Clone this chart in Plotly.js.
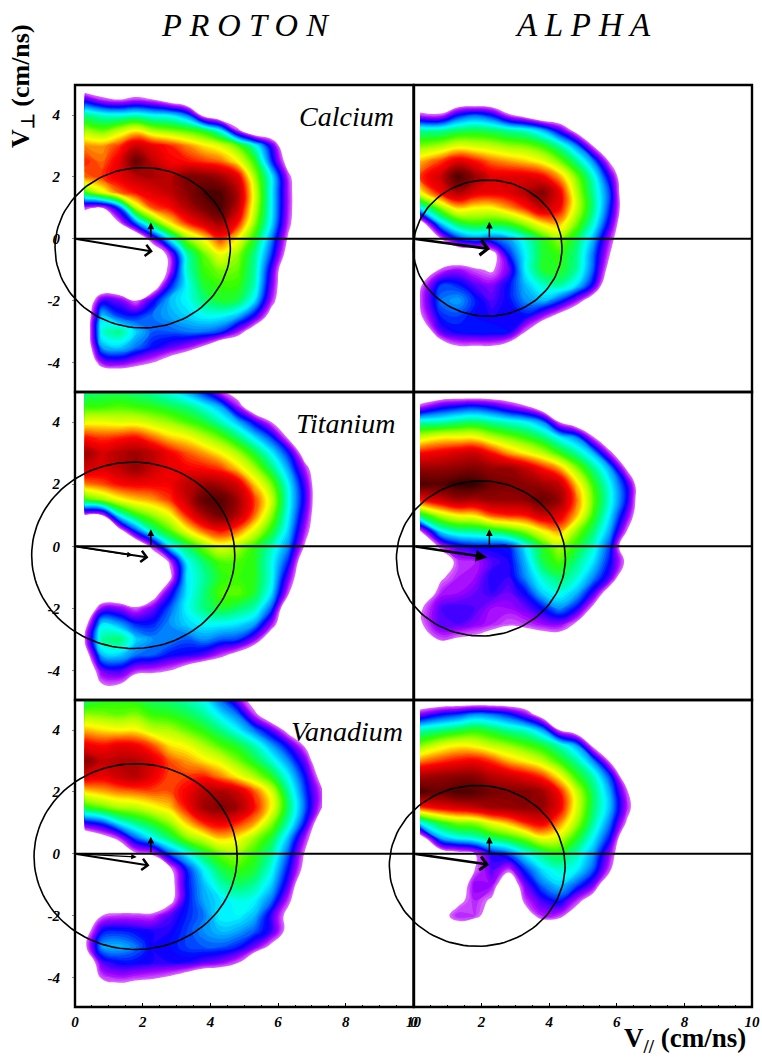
<!DOCTYPE html>
<html><head><meta charset="utf-8">
<script src="https://cdn.plot.ly/plotly-3.0.1.min.js"></script>
<style>html,body{margin:0;padding:0;background:#fff}</style></head>
<body><div id="chart" style="width:762px;height:1062px"></div>
<script>
// grid of the velocity maps
const vParProton = [0.28,0.8,1.3,1.8,2.3,2.8,3.3,3.8,4.3,4.8,5.3,5.8,6.3,6.8,7.3];
const vParAlpha = [0.18,0.8,1.3,1.8,2.3,2.8,3.3,3.8,4.3,4.8,5.3,5.8,6.3,6.8,7.3];
const vPerpTopDown = [5,4.5,4,3.5,3,2.5,2,1.5,1,0.5,0,-0.5,-1,-1.5,-2,-2.5,-3,-3.5,-4,-4.5,-5];

const protonCalcium = [
[0,0,0,0,0,0,0,0,0,0,0,0,0,0,0],
[1.8,1.2,1,1.2,1,0.5,0,0,0,0,0,0,0,0,0],
[3.5,3.2,3.1,3.2,3,2.9,2.4,0.7,0,0,0,0,0,0,0],
[4.5,4.2,4.6,5,4.5,4.3,4.1,3.8,3,1.2,0,0,0,0,0],
[5.5,5.4,5.8,6.5,6.2,5.9,5.5,5.1,4.8,4.2,3.2,1.8,0,0,0],
[5.9,5.6,6.2,7.5,6.6,6.1,6,5.8,5.6,5,4,2.2,0.6,0,0],
[5.6,5.8,6.2,6.6,6.8,6.7,7.2,7.2,6.9,6.3,4.5,3,1.2,0,0],
[4,4.8,5.6,6,6.3,6.6,7.1,7.7,7.7,6.8,4.8,3,1.3,0,0],
[1.2,1,2.2,4.6,5.7,6,6.7,7.3,7.8,6.6,4.7,3,1.3,0,0],
[0,0,0.9,2.3,3.8,5,5.8,6.4,6.9,6,4.4,2.9,1.2,0,0],
[0,0,0,0,1.5,3,4.3,5,5.8,5,3.9,2.5,0.9,0,0],
[0,0,0,0,0,1.3,3.3,4.2,4.9,4.4,3.5,2.2,0.6,0,0],
[0,0,0,0,0,1.2,3.2,4,4.3,4.2,3.4,1.8,0,0,0],
[0,0,0,0,0.3,2,3,3.8,4,4,3.3,1.6,0,0,0],
[0,1.8,1.6,1,1.9,2.7,3,3.5,3.8,3.7,2.9,1.3,0,0,0],
[0,2.8,2.2,2.1,2.4,2.6,2.8,3,3,2.7,1.9,0.6,0,0,0],
[0,3.2,3.5,2.8,2.3,2.3,2.4,2.4,2.2,1.4,0.4,0,0,0,0],
[0,2.6,2.8,2.4,2,1.7,1.4,0.9,0,0,0,0,0,0,0],
[0,1.4,1.6,1.3,1,0.5,0,0,0,0,0,0,0,0,0],
[0,0,0,0,0,0,0,0,0,0,0,0,0,0,0],
[0,0,0,0,0,0,0,0,0,0,0,0,0,0,0]];

const alphaCalcium = [
[0,0,0,0,0,0,0,0,0,0,0,0,0,0,0],
[0,0,0,0,0,0,0,0,0,0,0,0,0,0,0],
[1.2,1.1,2,2.3,2,1.1,0.6,0,0,0,0,0,0,0,0],
[3.4,3.4,3.6,3.7,3.6,3.4,3.2,2.7,1.8,0.7,0,0,0,0,0],
[4.3,4.5,4.8,4.7,4.6,4.4,4.3,4,3.4,2.5,1,0,0,0,0],
[5.3,5.8,6.3,6,5.6,5.4,5.2,4.9,4.3,3.5,2.5,0.9,0,0,0],
[5.8,6.5,7.8,7,6.3,6.3,6.3,6.1,5.4,4.3,3.2,1.8,0,0,0],
[5,6.1,6.8,6.3,6.2,6.3,6.7,7.2,6.2,4.6,3.4,2.2,0,0,0],
[3,4.4,5.2,5,5,5.4,5.9,6.6,6.1,4.7,3.5,2.1,0.2,0,0],
[0.5,2.8,3.7,4,3.9,4,4.5,5.1,5.3,4.3,3.2,1.8,0,0,0],
[0,1,2.1,2.5,2.3,2.6,3.2,3.9,4.4,3.7,2.7,1.3,0,0,0],
[0,0,0,0,0.6,2.1,3,3.8,4,3.5,2.4,1,0,0,0],
[0,1.1,1.4,1.1,0.9,1.6,3,3.8,3.9,3.4,2.3,0.6,0,0,0],
[0.9,2.2,2.1,1.7,1.5,2,2.7,3.2,3.4,2.9,1.9,0,0,0,0],
[1.1,2.4,2.6,2.1,1.7,2,2.5,2.7,2.2,1.4,0.4,0,0,0,0],
[0.9,2.1,2.2,2,1.9,2,2,1.4,0.7,0,0,0,0,0,0],
[0,1.7,2,2.1,2.1,2,1,0,0,0,0,0,0,0,0],
[0,0.3,0.9,0.9,0.9,0.5,0,0,0,0,0,0,0,0,0],
[0,0,0,0,0,0,0,0,0,0,0,0,0,0,0],
[0,0,0,0,0,0,0,0,0,0,0,0,0,0,0],
[0,0,0,0,0,0,0,0,0,0,0,0,0,0,0]];

const protonTitanium = [
[3.5,3.6,3.6,3.5,3.3,3,2.6,2,1.1,0.5,0,0,0,0,0],
[4,4,4.1,4,3.9,3.7,3.5,3.1,2.6,1.4,0.2,0,0,0,0],
[4.9,4.9,4.8,4.8,4.6,4.4,4.1,3.8,3.3,2.7,1.9,1,0,0,0],
[6,5.8,5.9,6,5.6,5.2,5,4.6,4.2,3.6,2.9,2.2,0.9,0,0],
[7,6.4,6.7,6.9,6.6,6.1,5.7,5.4,5,4.5,3.8,3,2.1,0.5,0],
[6.5,6.3,6.6,7,6.5,6.1,6.1,6,5.8,5.2,4.5,3.6,2.6,1.3,0],
[5.5,5.7,6,6.1,6.1,6.1,6.6,6.9,6.8,6.4,5.2,4.3,3,1.7,0],
[4,4.4,4.9,5.2,5.4,5.8,6.5,7.6,7.7,6.9,5.8,4.7,3.1,1.8,0],
[1,1,3,3.9,4.4,4.9,5.9,6.8,7.4,6.7,5.6,4.4,3,1.6,0],
[0,0,0.6,2.2,3.4,4.1,4.9,5.6,6,5.6,4.8,3.9,2.8,1.3,0],
[0,0,0,0,1.3,2.9,3.6,4.3,4.8,4.5,4,3.3,2.5,0.9,0],
[0,0,0,0,0,1.1,3,3.6,4.1,4.1,3.9,3.1,2.1,0.2,0],
[0,0,0,0,0,0.8,2.9,3.4,3.9,4,3.9,3.1,1.6,0,0],
[0,0,0,0,0.5,1.8,2.9,3.5,4.1,4.2,3.8,2.9,1.1,0,0],
[0,1.5,1.5,1.1,1.6,2.3,3,3.5,3.8,3.6,3.3,2.3,0,0,0],
[0.6,2.9,2.6,2.1,2.1,2.5,2.8,3,3,2.9,2.6,1.4,0,0,0],
[1,3.4,3.6,2.8,2.5,2.5,2.3,2.5,2.3,2.2,1.5,0.3,0,0,0],
[0.4,2.7,2.8,2.4,2.3,2,1.9,1.7,1.2,0.7,0,0,0,0,0],
[0,1.6,1.8,1.3,1.2,1,0.5,0,0,0,0,0,0,0,0],
[0,0.9,0.9,0,0,0,0,0,0,0,0,0,0,0,0],
[0,0,0,0,0,0,0,0,0,0,0,0,0,0,0]];

const alphaTitanium = [
[0,0,0,0,0,0,0,0,0,0,0,0,0,0,0],
[1.2,1.8,2,2.1,1.9,1.5,1.1,0.3,0,0,0,0,0,0,0],
[3.3,3.3,3.5,3.6,3.4,3.2,3,2.5,1,0.3,0,0,0,0,0],
[4.7,5,5,5,4.6,4.3,4,3.6,3,2.5,1.1,0,0,0,0],
[6,6.2,6.4,6.5,6,5.4,5,4.6,4,3.4,2.7,1.2,0,0,0],
[7,7,7.1,7.2,7,7,6.6,6,5.4,4.4,3.5,2.6,0.9,0,0],
[7.8,7.7,8,8,7.4,7.2,7.1,6.9,6.6,5.2,4,3,1.9,0,0],
[6,6.5,6.9,6.8,7,7,7.1,7.5,7,5.6,4.2,3.1,2,0,0],
[3.7,4.6,5,5.1,5.7,5.9,6,6.5,6.3,5.3,4,2.9,1.6,0,0],
[1,3,3.4,3.5,3.7,4,4.4,5,5.4,4.4,3.6,2.6,1,0,0],
[0,1.2,1.8,2,2,2.1,3,3.9,4.5,3.9,3.2,2.2,0,0,0],
[0,0.4,1.2,1.3,1.7,1.9,2.7,3.7,4.1,3.5,2.9,2,0.8,0,0],
[0,0.9,1.3,1.4,1.9,1.8,2.5,3.2,3.6,3.2,2.5,1.7,0,0,0],
[0.2,1.3,1.4,1.6,1.8,1.6,2,2.8,3.1,2.7,1.8,0.4,0,0,0],
[0.9,1.7,1.8,1.7,1.4,1.4,1.6,2,2.5,2,0.8,0,0,0,0],
[0.9,1.7,1.7,1.5,1.3,1.1,1.2,1.4,1.5,0.9,0,0,0,0,0],
[0.3,1.1,0.9,0.8,0.5,0.2,0.4,0.5,0.5,0,0,0,0,0,0],
[0,0,0,0,0,0,0,0,0,0,0,0,0,0,0],
[0,0,0,0,0,0,0,0,0,0,0,0,0,0,0],
[0,0,0,0,0,0,0,0,0,0,0,0,0,0,0],
[0,0,0,0,0,0,0,0,0,0,0,0,0,0,0]];

const protonVanadium = [
[3.5,3.8,3.9,3.8,3.6,3.5,3.3,3,2.3,1.5,0.5,0,0,0,0],
[4.4,4.3,4.2,4.3,4,3.9,3.7,3.4,2.9,2.4,1.2,0.2,0,0,0],
[5.3,5.1,5,5,4.6,4.5,4.2,3.9,3.5,3,2.4,1.7,0.7,0,0],
[6.2,6,6.2,6.1,5.7,5.1,4.9,4.5,4.1,3.8,3.3,2.6,1.9,0.9,0],
[7.2,6.6,6.7,6.7,6.3,5.7,5.4,5.1,4.8,4.3,3.8,3.2,2.5,1.6,0],
[6.4,6.2,6.5,6.7,6.2,5.7,5.8,5.9,5.5,5,4.5,3.9,3,2,0.6],
[5.1,5.3,5.5,5.6,5.7,5.7,6.1,6.7,6.8,6.5,5.7,4.8,3.4,2.2,1.1],
[3.9,4.2,4.5,4.6,4.9,5.2,6,6.9,7.2,6.9,6,5,3.6,2.3,1],
[1.9,2.2,3,3.5,3.9,4.4,5.2,5.9,6.2,5.9,5.4,4.4,3.3,2,0.2],
[0,0.6,1.2,2.3,3,3.6,4.3,4.7,5.2,5,4.4,3.8,2.7,1.3,0],
[0,0,0,0.9,1.1,2.3,3,3.7,4.2,4.4,4,3.4,2.3,0.9,0],
[0,0,0,0,0,0.8,2.1,3,3.7,4,3.8,3.1,2,0.7,0],
[0,0,0,0,0,0.6,2,2.7,3.3,3.6,3.4,2.8,1.7,0,0],
[0,0,0,0,0,0.7,2,2.6,2.9,3.1,3,2.4,1.2,0,0],
[0,1,1.2,1.2,1.2,1.7,2.1,2.4,3,3,2.7,1.8,0.7,0,0],
[0.5,2,2.1,2,1.9,1.9,2.2,2.5,2.7,2.6,2.3,1.8,0.7,0,0],
[0.8,2.6,2.7,2.4,1.9,2,2.2,2.3,2.3,2.1,1.6,0.8,0,0,0],
[0,1.7,2,2,1.9,1.9,1.9,1.7,1.5,1.1,0,0,0,0,0],
[0,1.1,1.3,1.2,1.1,0.9,0.5,0,0,0,0,0,0,0,0],
[0,0.3,0.4,0.1,0,0,0,0,0,0,0,0,0,0,0],
[0,0,0,0,0,0,0,0,0,0,0,0,0,0,0]];

const alphaVanadium = [
[0,0,0,0,0,0,0,0,0,0,0,0,0,0,0],
[1.5,2,2.2,2.5,2.4,2.1,1.5,0.5,0,0,0,0,0,0,0],
[3.3,3.5,3.7,3.9,3.7,3.4,3.2,2.6,1,0.4,0,0,0,0,0],
[4.3,4.8,5,4.9,4.6,4.4,4.1,3.8,3.3,2.6,0.8,0,0,0,0],
[5.5,5.8,6,6.1,5.8,5.3,5,4.6,4,3.4,2.5,0.9,0,0,0],
[6.8,7,7.1,7.1,6.7,6.5,6.2,5.8,5,4,3.3,2.2,0.2,0,0],
[7.8,7.5,7.8,7.7,7.3,7.2,7.2,6.9,6,4.7,3.6,2.6,1.1,0,0],
[5.8,6.2,6.4,6.6,6.9,7,7.1,7,6.2,4.8,3.6,2.7,1.3,0,0],
[3,3.9,4.3,4.4,4.9,5.3,5.9,6.2,5.5,4.5,3.4,2.4,0.9,0,0],
[0.4,2.6,3,3.2,3.6,3.9,4.3,4.9,4.7,3.9,3,2,0,0,0],
[0,0.4,0.7,1,1.9,2.3,3,3.5,3.8,3.3,2.6,1.4,0,0,0],
[0,0,0,1,1.7,1.2,2.2,2.9,3.2,3,2.3,1.1,0,0,0],
[0,0,0.3,1.5,1.4,0.2,1.6,2.4,2.8,2.3,1.6,0,0,0,0],
[0,0,0.8,1.3,0.9,0,1.2,1.8,2.1,1.3,0.5,0,0,0,0],
[0,0.7,1.3,1.2,0.6,0,0.6,1.3,1.2,0.5,0,0,0,0,0],
[0,0.8,0.4,0,0,0,0,0,0,0,0,0,0,0,0],
[0,0,0,0,0,0,0,0,0,0,0,0,0,0,0],
[0,0,0,0,0,0,0,0,0,0,0,0,0,0,0],
[0,0,0,0,0,0,0,0,0,0,0,0,0,0,0],
[0,0,0,0,0,0,0,0,0,0,0,0,0,0,0],
[0,0,0,0,0,0,0,0,0,0,0,0,0,0,0]];

// panel order: proton Ca, alpha Ca, proton Ti, alpha Ti, proton V, alpha V
const panelMaps = [protonCalcium, alphaCalcium, protonTitanium, alphaTitanium, protonVanadium, alphaVanadium];
const circleCx = [2.0, 2.18, 1.72, 1.98, 1.79, 1.87];
const circleCy = [-0.29, -0.3, -0.29, -0.39, -0.09, -0.39];
const circleR  = [2.59, 2.2, 3.0, 2.5, 3.0, 2.6];
const arrowTipX = [2.3, 2.25, 2.17, 2.17, 2.2, 2.22];
const arrowTipY = [-0.41, -0.33, -0.36, -0.36, -0.38, -0.35];
const arrowWidth = [2, 2.6, 2, 2.6, 2, 2.4];
const arrowHead = [4, 4, 4, 2, 4, 4];
const secondTipX = [null, null, 1.7, null, 1.82, null];
const secondTipY = [null, null, -0.29, null, -0.1, null];
const upArrowX = [2.24, 2.23, 2.24, 2.23, 2.24, 2.23];
const upArrowY = [0.53, 0.55, 0.55, 0.55, 0.55, 0.55];
const elements = ['Calcium','Titanium','Vanadium'];
const xTicks = [0,2,4,6,8,10];
const yTicks = [-4,-2,0,2,4];

const SERIF = 'Liberation Serif';
const W = 762, H = 1062;
const colX = [[75,413.5],[414,752]];
const rowY = [[85,392],[392,700],[700,1007]];
const LEFT_PAD = 4;  // extra axis units left of each panel so the circles can overrun the frame
// colour stops in level units; contour levels run 0.1..8 so the colorscale spans 0.05..8.05
const stops = [[0.05,'#ffffff'],[0.99,'#ffffff'],[1,'#e070ff'],[1.4,'#a000ff'],[2,'#0000ff'],
 [2.5,'#0090ff'],[3,'#00ffff'],[3.5,'#00ff80'],[4,'#30ff00'],[4.5,'#b0ff00'],[5,'#ffff00'],
 [5.5,'#ff8000'],[6,'#ff0000'],[6.6,'#c00000'],[7.2,'#800000'],[7.6,'#600000'],[8,'#300000'],[8.05,'#300000']];
const scale = stops.map(s=>[(s[0]-0.05)/8,s[1]]);

const yAsc = vPerpTopDown.slice().reverse();
const traces = [], annotations = [], shapes = [];
const layout = {width:W,height:H,margin:{l:0,r:0,t:0,b:0},paper_bgcolor:'#fff',plot_bgcolor:'rgba(0,0,0,0)',showlegend:false,annotations,shapes};

panelMaps.forEach((map,i)=>{
  const c = i%2, r = Math.floor(i/2), n = i+1;
  const xa = n===1?'x':'x'+n, ya = n===1?'y':'y'+n;
  layout['xaxis'+(n===1?'':n)] = {
    domain:[colX[c][0]/W,colX[c][1]/W], range:[0,10], anchor:ya, showgrid:false, zeroline:false,
    showline:false,
    tickmode:'array', tickvals:r===2?xTicks:[], ticktext:r===2?xTicks.map(String):[],
    ticks:r===2?'inside':'', ticklen:r===2?4:0, tickcolor:'#000', ticklabelstandoff:4,
    tickfont:{family:SERIF,size:15,weight:700,style:'italic',color:'#000'},
    minor:r===2?{dtick:0.5,ticks:'inside',ticklen:2,tickcolor:'#000',showgrid:false}:undefined
  };
  layout['yaxis'+(n===1?'':n)] = {
    domain:[1-rowY[r][1]/H,1-rowY[r][0]/H], range:[-4.95,4.97], anchor:xa, showgrid:false, zeroline:false,
    showline:false,
    tickmode:'array', tickvals:c===0?yTicks:[], ticktext:c===0?yTicks.map(String):[],
    ticks:c===0?'outside':'', ticklen:c===0?2:0, tickcolor:'#888', ticklabelstandoff:9,
    tickfont:{family:SERIF,size:15,weight:700,style:'italic',color:'#000'}
  };
  traces.push({type:'contour',x:c===0?vParProton:vParAlpha,y:yAsc,z:map.slice().reverse(),xaxis:xa,yaxis:ya,
    colorscale:scale,showscale:false,hoverinfo:'skip',
    autocontour:false,contours:{start:0.1,end:8,size:0.1,coloring:'fill',showlines:false},
    line:{width:0,smoothing:1.3}});
  traces.push({type:'scatter',mode:'lines',x:[0,10],y:[0,0],xaxis:xa,yaxis:ya,line:{color:'#000',width:2},hoverinfo:'skip'});
  // overlay x axis with the same scale, extended left, so the circle may overrun the frame
  const pxPerUnit = (colX[c][1]-colX[c][0])/10, m = n+6;
  layout['xaxis'+m] = {domain:[(colX[c][0]-LEFT_PAD*pxPerUnit)/W<0?0:(colX[c][0]-LEFT_PAD*pxPerUnit)/W,colX[c][1]/W],
    range:[(colX[c][0]-LEFT_PAD*pxPerUnit)<0?-colX[c][0]/pxPerUnit:-LEFT_PAD,10],anchor:ya,visible:false};
  const cx=[],cy=[];
  for(let d=0;d<=360;d+=3){cx.push(circleCx[i]+circleR[i]*Math.cos(d*Math.PI/180));cy.push(circleCy[i]+circleR[i]*Math.sin(d*Math.PI/180));}
  traces.push({type:'scatter',mode:'lines',x:cx,y:cy,xaxis:'x'+m,yaxis:ya,line:{color:'#000',width:1.6},hoverinfo:'skip'});
  const arrow=(x,y,ax,ay,w,head,sz)=>annotations.push({xref:xa,yref:ya,axref:xa,ayref:ya,x,y,ax,ay,text:'',showarrow:true,arrowhead:head,arrowwidth:w,arrowsize:sz,arrowcolor:'#000',standoff:0,startstandoff:0});
  arrow(arrowTipX[i],arrowTipY[i],0,0,arrowWidth[i],arrowHead[i],arrowHead[i]===2?0.9:1.1);
  if(secondTipX[i]!==null) arrow(secondTipX[i],secondTipY[i],0,0,1.2,2,0.9);
  arrow(upArrowX[i],upArrowY[i],upArrowX[i],0,1.5,2,0.9);
  shapes.push({type:'rect',xref:'paper',yref:'paper',x0:colX[c][0]/W,x1:colX[c][1]/W,y0:1-rowY[r][1]/H,y1:1-rowY[r][0]/H,line:{color:'#000',width:2.4},layer:'above'});
});

const txt=(text,x,y,size,extra)=>annotations.push(Object.assign({xref:'paper',yref:'paper',x:x/W,y:1-y/H,text,showarrow:false,xanchor:'center',yanchor:'middle',font:{family:SERIF,size,color:'#000'}},extra||{}));
txt('<i>P R O T O N</i>',245,25,32.5);
txt('<i>A L P H A</i>',583,25,33);
txt('<i>'+elements[0]+'</i>',346.5,116,28);
txt('<i>'+elements[1]+'</i>',346,424,28);
txt('<i>'+elements[2]+'</i>',346.5,731,28);
txt('<b>V<sub>⊥</sub> (cm/ns)</b>',22,86,26,{textangle:-90});
txt('<b>V<sub>//</sub> (cm/ns)</b>',685,1040,27);

Plotly.newPlot('chart',traces,layout,{displayModeBar:false,staticPlot:true});
</script></body></html>
